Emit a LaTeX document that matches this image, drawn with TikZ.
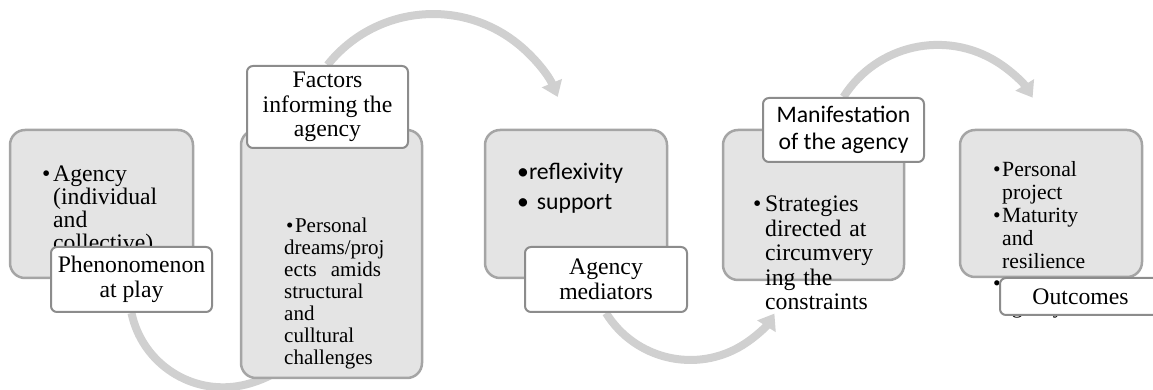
\documentclass[tikz,border=0pt]{standalone}
\usepackage{fontspec}
\setmainfont{Liberation Serif}
\newfontfamily\labelsans{Carlito}
\usetikzlibrary{arrows.meta,backgrounds}
\definecolor{PanelFill}{HTML}{E4E4E4}
\definecolor{PanelEdge}{HTML}{A5A5A5}
\definecolor{TagEdge}{HTML}{8C8C8C}
\definecolor{ArcGray}{HTML}{D0D0D0}

% bullet paragraph with hanging indent (lines split by \newline)
\newcommand{\pitem}[2][11pt]{\hangindent=#1\hangafter=1\makebox[#1][l]{\textbullet}#2\par}

\begin{document}
\begin{tikzpicture}[
  x=1pt, y=1pt,
  % ── grey content panel ──────────────────────────────────────────────────
  panel/.style={
    draw=PanelEdge, fill=PanelFill, line width=2.5pt,
    rounded corners=15pt, inner sep=0pt
  },
  % ── white title tag laid over a panel ───────────────────────────────────
  tag/.style={
    draw=TagEdge, fill=white, line width=2pt,
    rounded corners=6pt, inner sep=0pt, align=center,
    minimum width=161pt,
    font=\fontsize{23.7}{24.5}\selectfont
  },
  % ── bullet text inside a panel ──────────────────────────────────────────
  bullets/.style={anchor=base west, inner sep=0pt, text width=170pt, align=left},
  % ── curved grey arrows ──────────────────────────────────────────────────
  flow/.style={draw=ArcGray, line width=8pt, -{Triangle[width=21pt,length=15pt]}},
]
\useasboundingbox (0,0) rectangle (1153,390);

%% ── Panels ──
\node[panel, minimum width=183pt, minimum height=148pt] (p1) at (101.5,186) {};
\node[panel, minimum width=181pt, minimum height=248pt] (p2) at (331.5,136) {};
\node[panel, minimum width=182pt, minimum height=148pt] (p3) at (576,186)   {};
\node[panel, minimum width=181pt, minimum height=150pt] (p4) at (813.5,185) {};
\node[panel, minimum width=182pt, minimum height=147pt] (p5) at (1051,186.5) {};

%% ── Panel contents ──
\node[bullets, font=\fontsize{23.7}{23}\selectfont] (t1) at (42,208)
  {\pitem{Agency\newline(individual\newline and\newline collective)}};
\node[bullets, font=\fontsize{21}{22}\selectfont] (t2) at (284,157)
  {\hspace*{2pt}\textbullet\hspace{1.5pt}Personal\\dreams/proj\\ects~ amids\\structural\\and\\culltural\\challenges};
\node[bullets, font=\labelsans\fontsize{23.7}{30}\selectfont] (t3) at (517,210)
  {\textbullet reflexivity\\\textbullet\ support};
\node[bullets, font=\fontsize{23.7}{24.5}\selectfont] (t4) at (753,178)
  {\pitem[12pt]{Strategies\newline directed at\newline circumvery\newline ing the\newline constraints}};
\node[bullets, font=\fontsize{21.7}{22.8}\selectfont] (t5) at (993,213)
  {\pitem[9pt]{Personal\newline project}\pitem[9pt]{Maturity\newline and\newline resilience}\pitem[9pt]{\newline agency}};

%% ── Title tags ──
\node[tag, minimum height=65pt] (l1) at (131.5,110.5) {Phenonomenon\\at play};
\node[tag, minimum height=82pt] (l2) at (327.5,283)   {Factors\\informing the\\agency};
\node[tag, minimum height=65pt, minimum width=162pt] (l3) at (606,110.5) {Agency\\mediators};
\node[tag, minimum height=64pt, font=\labelsans\fontsize{23.7}{27}\selectfont]
      (l4) at (843.5,260) {Manifestation\\of the agency};
\node[tag, minimum height=37pt] (l5) at (1080.5,93.5) {Outcomes};

%% ── Arrows between the stages ──
\begin{scope}[on background layer]
  \draw[flow] (l1.south) arc[start angle=191.9, end angle=315,  radius=93.6pt];
  \draw[flow] (l2.north) arc[start angle=141.5, end angle=22.7, radius=135pt];
  \draw[flow] (l3.south) arc[start angle=211.8, end angle=327.8, radius=99.3pt];
  \draw[flow] (l4.north) arc[start angle=147.8, end angle=31.8, radius=111.5pt];
\end{scope}

\end{tikzpicture}
\end{document}
